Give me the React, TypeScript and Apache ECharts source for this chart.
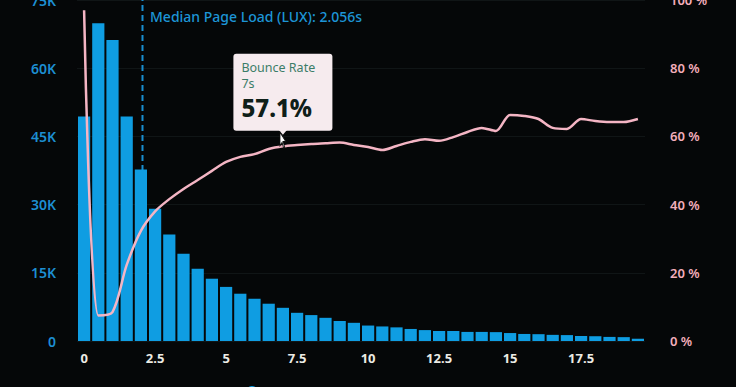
import React, { useEffect, useRef } from "react";
import * as echarts from "echarts";

const categories = [
  "0", "0.5", "1", "1.5", "2", "2.5", "3", "3.5", "4", "4.5",
  "5", "5.5", "6", "6.5", "7", "7.5", "8", "8.5", "9", "9.5",
  "10", "10.5", "11", "11.5", "12", "12.5", "13", "13.5", "14", "14.5",
  "15", "15.5", "16", "16.5", "17", "17.5", "18", "18.5", "19", "19.5",
];

const downloads = [
  49400, 69900, 66200, 49400, 37700, 29100, 23400, 19200, 15900, 13700,
  11900, 10400, 9300, 8200, 7300, 6200, 5700, 5100, 4400, 4000,
  3400, 3200, 3000, 2650, 2400, 2200, 2200, 2000, 2000, 1950,
  1750, 1550, 1500, 1350, 1300, 1100, 1050, 900, 850, 500,
];

const bounceRate = [
  97, 7.5, 8.5, 22.3, 32.3, 38, 41.6, 44.6, 47.2, 49.9,
  52.5, 54, 54.8, 56.3, 57.1, 57.5, 57.8, 58, 58.2, 57.5,
  56.9, 56, 57.2, 58.4, 59.2, 58.7, 59.8, 61.3, 62.5, 61.6,
  66.3, 66, 65.1, 62.5, 62.2, 65.1, 64.5, 64.2, 64.2, 65.1,
];

const leftTicks = { min: 0, max: 75000, interval: 15000 };
const rightTicks = { min: 0, max: 100, interval: 20 };
const medianLoad = 2.056;
const highlightCategory = "7";
const highlightValue = 57.1;

export default function App() {
  const ref = useRef<HTMLDivElement>(null);
  useEffect(() => {
    document.body.style.margin = "0";
    const chart = echarts.init(ref.current!, undefined, { renderer: "svg" });
    const font = "'Noto Sans', sans-serif";
    chart.setOption({
      animation: false,
      backgroundColor: "#050708",
      textStyle: { fontFamily: font },
      grid: {
        left: 77,
        right: 91,
        top: 0,
        bottom: 46,
        containLabel: false,
        outerBoundsMode: "none",
      },
      legend: {
        top: 380,
        left: 241,
        itemGap: 30,
        itemWidth: 14,
        itemHeight: 12,
        textStyle: { color: "#e6e6e0", fontSize: 14, fontWeight: 600 },
        data: [
          { name: "Download (LUX)", icon: "circle" },
          { name: "Bounce Rate" },
        ],
      },
      xAxis: [
        {
          type: "category",
          data: categories,
          axisLine: { show: false },
          axisTick: { show: false },
          axisLabel: {
            interval: 4,
            color: "#ecebe4",
            fontSize: 13,
            fontWeight: 700,
            margin: 10,
          },
        },
        {
          type: "value",
          min: -0.25,
          max: 19.75,
          show: false,
        },
      ],
      yAxis: [
        {
          type: "value",
          ...leftTicks,
          axisLine: { show: false },
          axisTick: { show: false },
          splitLine: { lineStyle: { color: "#101516", width: 1 } },
          axisLabel: {
            color: "#1d8fd2",
            fontSize: 14,
            fontWeight: 600,
            margin: 21,
            formatter: (v: number) => (v === 0 ? "0" : v / 1000 + "K"),
          },
        },
        {
          type: "value",
          ...rightTicks,
          axisLine: { show: false },
          axisTick: { show: false },
          splitLine: { show: false },
          axisLabel: {
            color: "#f3aebb",
            fontSize: 13,
            fontWeight: 600,
            margin: 25,
            formatter: "{value} %",
          },
        },
      ],
      series: [
        {
          name: "Median",
          type: "line",
          xAxisIndex: 1,
          yAxisIndex: 0,
          z: 1,
          symbol: "none",
          lineStyle: { color: "#1a8fd0", width: 2, type: [6, 4] },
          data: [
            [medianLoad, 0],
            [medianLoad, 75000],
          ],
          markPoint: {
            silent: true,
            data: [
              {
                coord: [medianLoad, 71400],
                symbol: "circle",
                symbolSize: 1,
                itemStyle: { color: "rgba(0,0,0,0)" },
                label: {
                  show: true,
                  position: "right",
                  distance: 7,
                  color: "#1d95d6",
                  fontSize: 14,
                  fontWeight: 500,
                  formatter: "Median Page Load (LUX): " + medianLoad + "s",
                },
              },
            ],
          },
        },
        {
          name: "Download (LUX)",
          type: "bar",
          z: 2,
          barCategoryGap: "14%",
          itemStyle: { color: "#0f9de2" },
          data: downloads,
        },
        {
          name: "Bounce Rate",
          type: "line",
          yAxisIndex: 1,
          z: 3,
          smooth: 0.3,
          symbol: "none",
          itemStyle: { color: "#f4b5c4" },
          lineStyle: { color: "#f4b5c4", width: 2.5 },
          data: bounceRate,
          markPoint: {
            silent: true,
            data: [
              {
                coord: [highlightCategory, highlightValue],
                symbol: "circle",
                symbolSize: 1,
                itemStyle: { color: "rgba(0,0,0,0)" },
                label: {
                  show: true,
                  position: "top",
                  distance: 15,
                  backgroundColor: "#f6ebee",
                  borderRadius: 3,
                  padding: [6, 8, 7, 8],
                  width: 83,
                  formatter:
                    "{t|Bounce Rate}\n{t|" +
                    highlightCategory +
                    "s}\n{v|" +
                    highlightValue +
                    "%}",
                  rich: {
                    t: {
                      fontSize: 12.5,
                      lineHeight: 16,
                      color: "#3b7d68",
                      fontFamily: font,
                      align: "left",
                    },
                    v: {
                      fontSize: 24,
                      lineHeight: 32,
                      fontWeight: 800,
                      color: "#0f2019",
                      fontFamily: font,
                      align: "left",
                    },
                  },
                },
              },
              {
                coord: [highlightCategory, highlightValue],
                symbol: "triangle",
                symbolRotate: 180,
                symbolSize: [12, 7],
                symbolOffset: [0, -15],
                itemStyle: { color: "#f6ebee" },
                label: { show: false },
              },
              {
                coord: [highlightCategory, highlightValue],
                symbol:
                  "path://M0,0 L0,16 L4,12 L7,19 L9,18 L6,11 L11,11 Z",
                symbolSize: [10, 16],
                symbolKeepAspect: true,
                symbolOffset: [0, -6],
                itemStyle: { color: "#ffffff", borderColor: "#111", borderWidth: 1 },
                label: { show: false },
              },
            ],
          },
        },
      ],
    });
    return () => chart.dispose();
  }, []);
  return <div ref={ref} style={{ width: 736, height: 387 }} />;
}
